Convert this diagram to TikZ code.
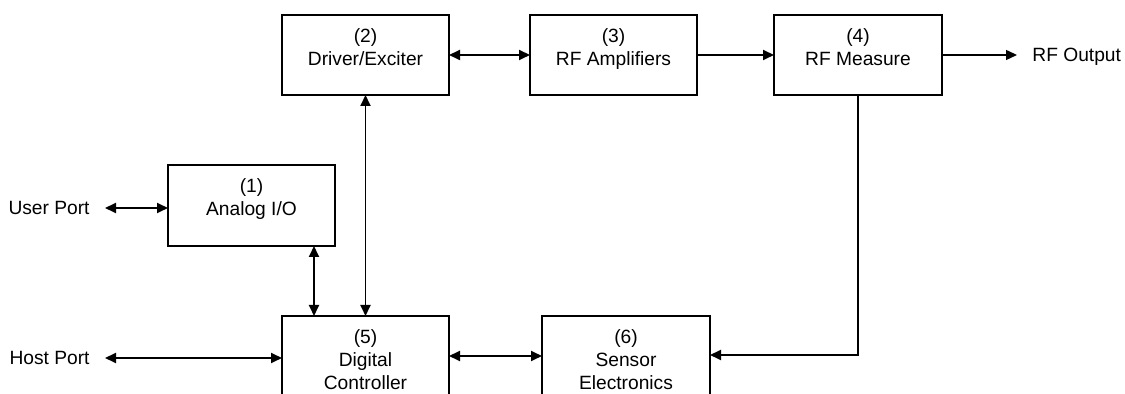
\documentclass[tikz,border=0pt]{standalone}
\usepackage{fontspec}
\setmainfont{Liberation Sans}
\usetikzlibrary{arrows.meta}
\begin{document}
\begin{tikzpicture}[x=0.5pt,y=-0.5pt,
  box/.style={draw,line width=1pt,anchor=north west,inner sep=0pt,outer sep=0pt},
  lbl/.style={align=center,anchor=north,inner sep=0pt,font=\fontsize{9.6}{11.5}\selectfont},
  port/.style={inner xsep=7.5pt,inner ysep=0pt,font=\fontsize{9.6}{11.5}\selectfont},
  conn/.style={line width=0.9pt},
  tip/.style={-{Triangle[length=5.5pt,width=5pt]}},
  dtip/.style={{Triangle[length=5.5pt,width=5pt]}-{Triangle[length=5.5pt,width=5pt]}}]
\useasboundingbox (0,0) rectangle (1125,394);
\clip (0,0) rectangle (1125,394);
% boxes
\node[box,minimum width=83.5pt,minimum height=40.5pt] (b1) at (168,165) {};
\node[box,minimum width=83.5pt,minimum height=40pt] (b2) at (282,15) {};
\node[box,minimum width=83.5pt,minimum height=40pt] (b3) at (530,15) {};
\node[box,minimum width=84pt,minimum height=40pt] (b4) at (774,15) {};
\node[box,minimum width=83.5pt,minimum height=50pt] (b5) at (282,316) {};
\node[box,minimum width=84pt,minimum height=50pt] (b6) at (542,316) {};
% labels
\node[lbl] (t1) at ([yshift=-6.5pt]b1.north) {(1)\\Analog I/O};
\node[lbl] (t2) at ([yshift=-6.5pt]b2.north) {(2)\\Driver/Exciter};
\node[lbl] (t3) at ([yshift=-6.5pt]b3.north) {(3)\\RF Amplifiers};
\node[lbl] (t4) at ([yshift=-6.5pt]b4.north) {(4)\\RF Measure};
\node[lbl] (t5) at ([yshift=-6.5pt]b5.north) {(5)\\Digital\\Controller};
\node[lbl] (t6) at ([yshift=-6.5pt]b6.north) {(6)\\Sensor\\Electronics};
% ports
\node[port,anchor=east] (up) at (105,208) {User Port};
\node[port,anchor=east] (hp) at (105,358) {Host Port};
\node[port,anchor=west] (rf) at (1017,57) {RF Output};
% helper coordinates
\coordinate (c1) at (314,0);
\coordinate (c2) at (0,356);
\coordinate (c4) at (0,355);
% connectors
\draw[conn,dtip] (b2) -- (b3);
\draw[conn,tip] (b3) -- (b4);
\draw[conn,tip,line width=0.7pt] (b4.east) -- (b4.east -| rf.west);
\draw[conn,dtip] (up.east) -- (up.east -| b1.west);
\draw[conn,dtip] (hp.east) -- (hp.east -| b5.west);
\draw[conn,dtip] (b1.south -| c1) -- (b5.north -| c1);
\draw[conn,dtip] (b2.south) -- (b2.south |- b5.north);
\draw[conn,dtip] (b5.east |- c2) -- (b6.west |- c2);
\draw[conn,tip] (b4.south) |- (b6.east |- c4);
\end{tikzpicture}
\end{document}
